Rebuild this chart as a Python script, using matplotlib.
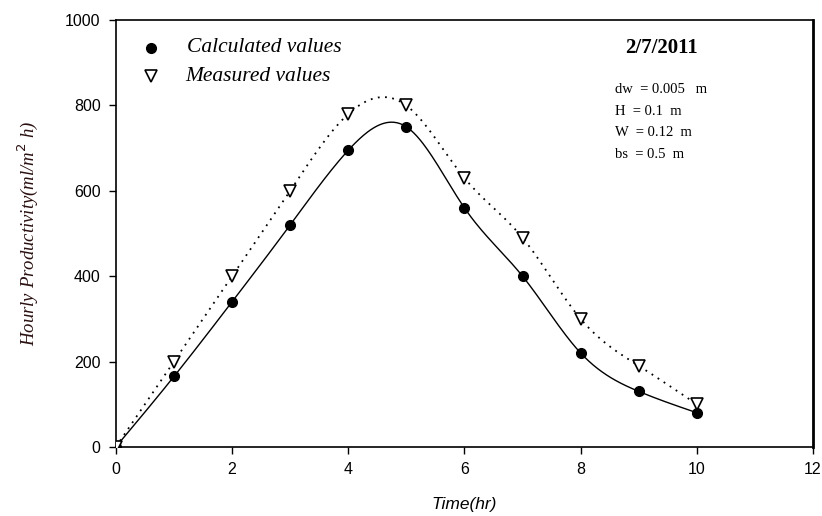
import numpy as np
import matplotlib
matplotlib.use("Agg")
import matplotlib.pyplot as plt

time_hr = [0, 1, 2, 3, 4, 5, 6, 7, 8, 9, 10]
calculated = [0, 165, 340, 520, 695, 750, 560, 400, 220, 130, 80]
measured = [0, 200, 400, 600, 780, 800, 630, 490, 300, 190, 100]
x_ticks = [0, 2, 4, 6, 8, 10, 12]
y_ticks = [0, 200, 400, 600, 800, 1000]
params = ["dw  = 0.005   m", "H  = 0.1  m", "W  = 0.12  m", "bs  = 0.5  m"]


def natural_spline(x, y, n=400):
    x = np.asarray(x, float)
    y = np.asarray(y, float)
    m = len(x)
    h = np.diff(x)
    A = np.zeros((m, m))
    b = np.zeros(m)
    A[0, 0] = 1
    A[-1, -1] = 1
    for i in range(1, m - 1):
        A[i, i - 1] = h[i - 1]
        A[i, i] = 2 * (h[i - 1] + h[i])
        A[i, i + 1] = h[i]
        b[i] = 6 * ((y[i + 1] - y[i]) / h[i] - (y[i] - y[i - 1]) / h[i - 1])
    M = np.linalg.solve(A, b)
    xs = np.linspace(x[0], x[-1], n)
    idx = np.clip(np.searchsorted(x, xs) - 1, 0, m - 2)
    x0, x1 = x[idx], x[idx + 1]
    hh = x1 - x0
    t0 = x1 - xs
    t1 = xs - x0
    ys = (M[idx] * t0 ** 3 / (6 * hh) + M[idx + 1] * t1 ** 3 / (6 * hh)
          + (y[idx] / hh - M[idx] * hh / 6) * t0
          + (y[idx + 1] / hh - M[idx + 1] * hh / 6) * t1)
    return xs, ys


fig = plt.figure(figsize=(8.22, 5.16), dpi=100)
ax = fig.add_axes([0.141, 0.134, 0.848, 0.827])

xs, ys = natural_spline(time_hr, calculated)
ax.plot(xs, ys, color="black", lw=1.0, zorder=2)
xs2, ys2 = natural_spline(time_hr, measured)
ax.plot(xs2, ys2, color="black", lw=1.3, linestyle=(0, (1, 3)), zorder=2)

ax.plot(time_hr, calculated, "o", color="black", markersize=7, zorder=3)
ax.plot(time_hr, measured, "v", markerfacecolor="white", markeredgecolor="black",
        markeredgewidth=1.2, markersize=8, zorder=4)

ax.set_xlim(0, 12)
ax.set_ylim(0, 1000)
ax.set_xticks(x_ticks)
ax.set_yticks(y_ticks)
ax.tick_params(direction="out", length=5, width=1, labelsize=11.5, pad=6)
for lab in ax.get_xticklabels() + ax.get_yticklabels():
    lab.set_fontfamily("Liberation Sans")
for sp in ax.spines.values():
    sp.set_linewidth(1.2)
ax.spines["right"].set_linewidth(2)

ax.set_xlabel("Time(hr)", fontsize=12.5, fontstyle="italic",
              fontfamily="Liberation Sans", labelpad=14)
ax.set_ylabel("Hourly Productivity(ml/m$^2$ h)", fontsize=13.5, fontstyle="italic",
              fontfamily="Liberation Serif", color="#2a1010", labelpad=18)

# legend-like entries
ax.plot([0.6], [935], "o", color="black", markersize=7, clip_on=False)
ax.plot([0.6], [869], "v", markerfacecolor="white", markeredgecolor="black",
        markeredgewidth=1.2, markersize=8, clip_on=False)
ax.text(1.22, 935, "Calculated values", fontsize=15.5, fontstyle="italic",
        fontfamily="Liberation Serif", va="center")
ax.text(1.19, 869, "Measured values", fontsize=15.5, fontstyle="italic",
        fontfamily="Liberation Serif", va="center")

ax.text(8.77, 935, "2/7/2011", fontsize=15, fontfamily="Liberation Serif",
        fontweight="bold", va="center")
for i, p in enumerate(params):
    ax.text(8.6, 838 - i * 51, p, fontsize=10.5, fontfamily="Liberation Serif", va="center")

fig.savefig("out.png", dpi=100)
